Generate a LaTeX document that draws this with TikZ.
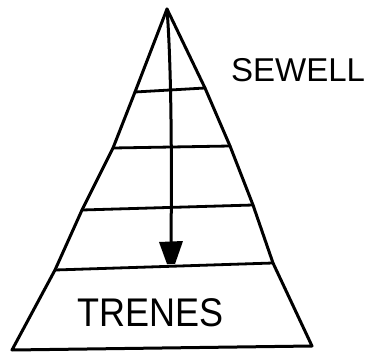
\documentclass[tikz,border=0pt]{standalone}
\usepackage{fontspec}
\setmainfont{Liberation Sans}
\begin{document}
\begin{tikzpicture}[x=1pt,y=-1pt,
  ink/.style={line width=3pt,line join=round,line cap=round,draw=black},
  tier/.style={line width=2.8pt,line cap=round,draw=black},
  hand/.style={inner sep=0pt,anchor=west,text=black}]
\useasboundingbox (0,0) rectangle (368,354);
% outline points
\coordinate (apex) at (167,9);
\coordinate (r1) at (205,88);
\coordinate (r2) at (230,146);
\coordinate (r3) at (253,205);
\coordinate (r4) at (273,263);
\coordinate (br) at (312,346);
\coordinate (bl) at (12,350);
\coordinate (l4) at (55,270);
\coordinate (l3) at (82,210);
\coordinate (l2) at (113,148);
\coordinate (l1) at (135,92);
% pyramid outline
\draw[ink] (apex) -- (r1) -- (r2) -- (r3) -- (r4) -- (br) -- (bl)
  -- (l4) -- (l3) -- (l2) -- (l1) -- cycle;
% tiers
\draw[tier] (l1) -- (r1);
\draw[tier] (l2) -- (r2);
\draw[tier] (l3) -- (r3);
\draw[tier] (l4) -- (r4);
% arrow
\coordinate (abase) at (171,243);
\draw[line width=3pt,line cap=round] (apex) .. controls (171,60) and (172,150) .. (abase);
\fill[black] (159,242) -- (183,241) -- (175,264) -- (167,264) -- cycle;
% labels
\node[hand] (sewell) at (231,70) {\fontsize{33}{33}\selectfont SEWELL};
\node[hand] (trenes) at (77,313) {\fontsize{40}{40}\selectfont\scalebox{0.9}[1]{TRENES}};
\end{tikzpicture}
\end{document}
